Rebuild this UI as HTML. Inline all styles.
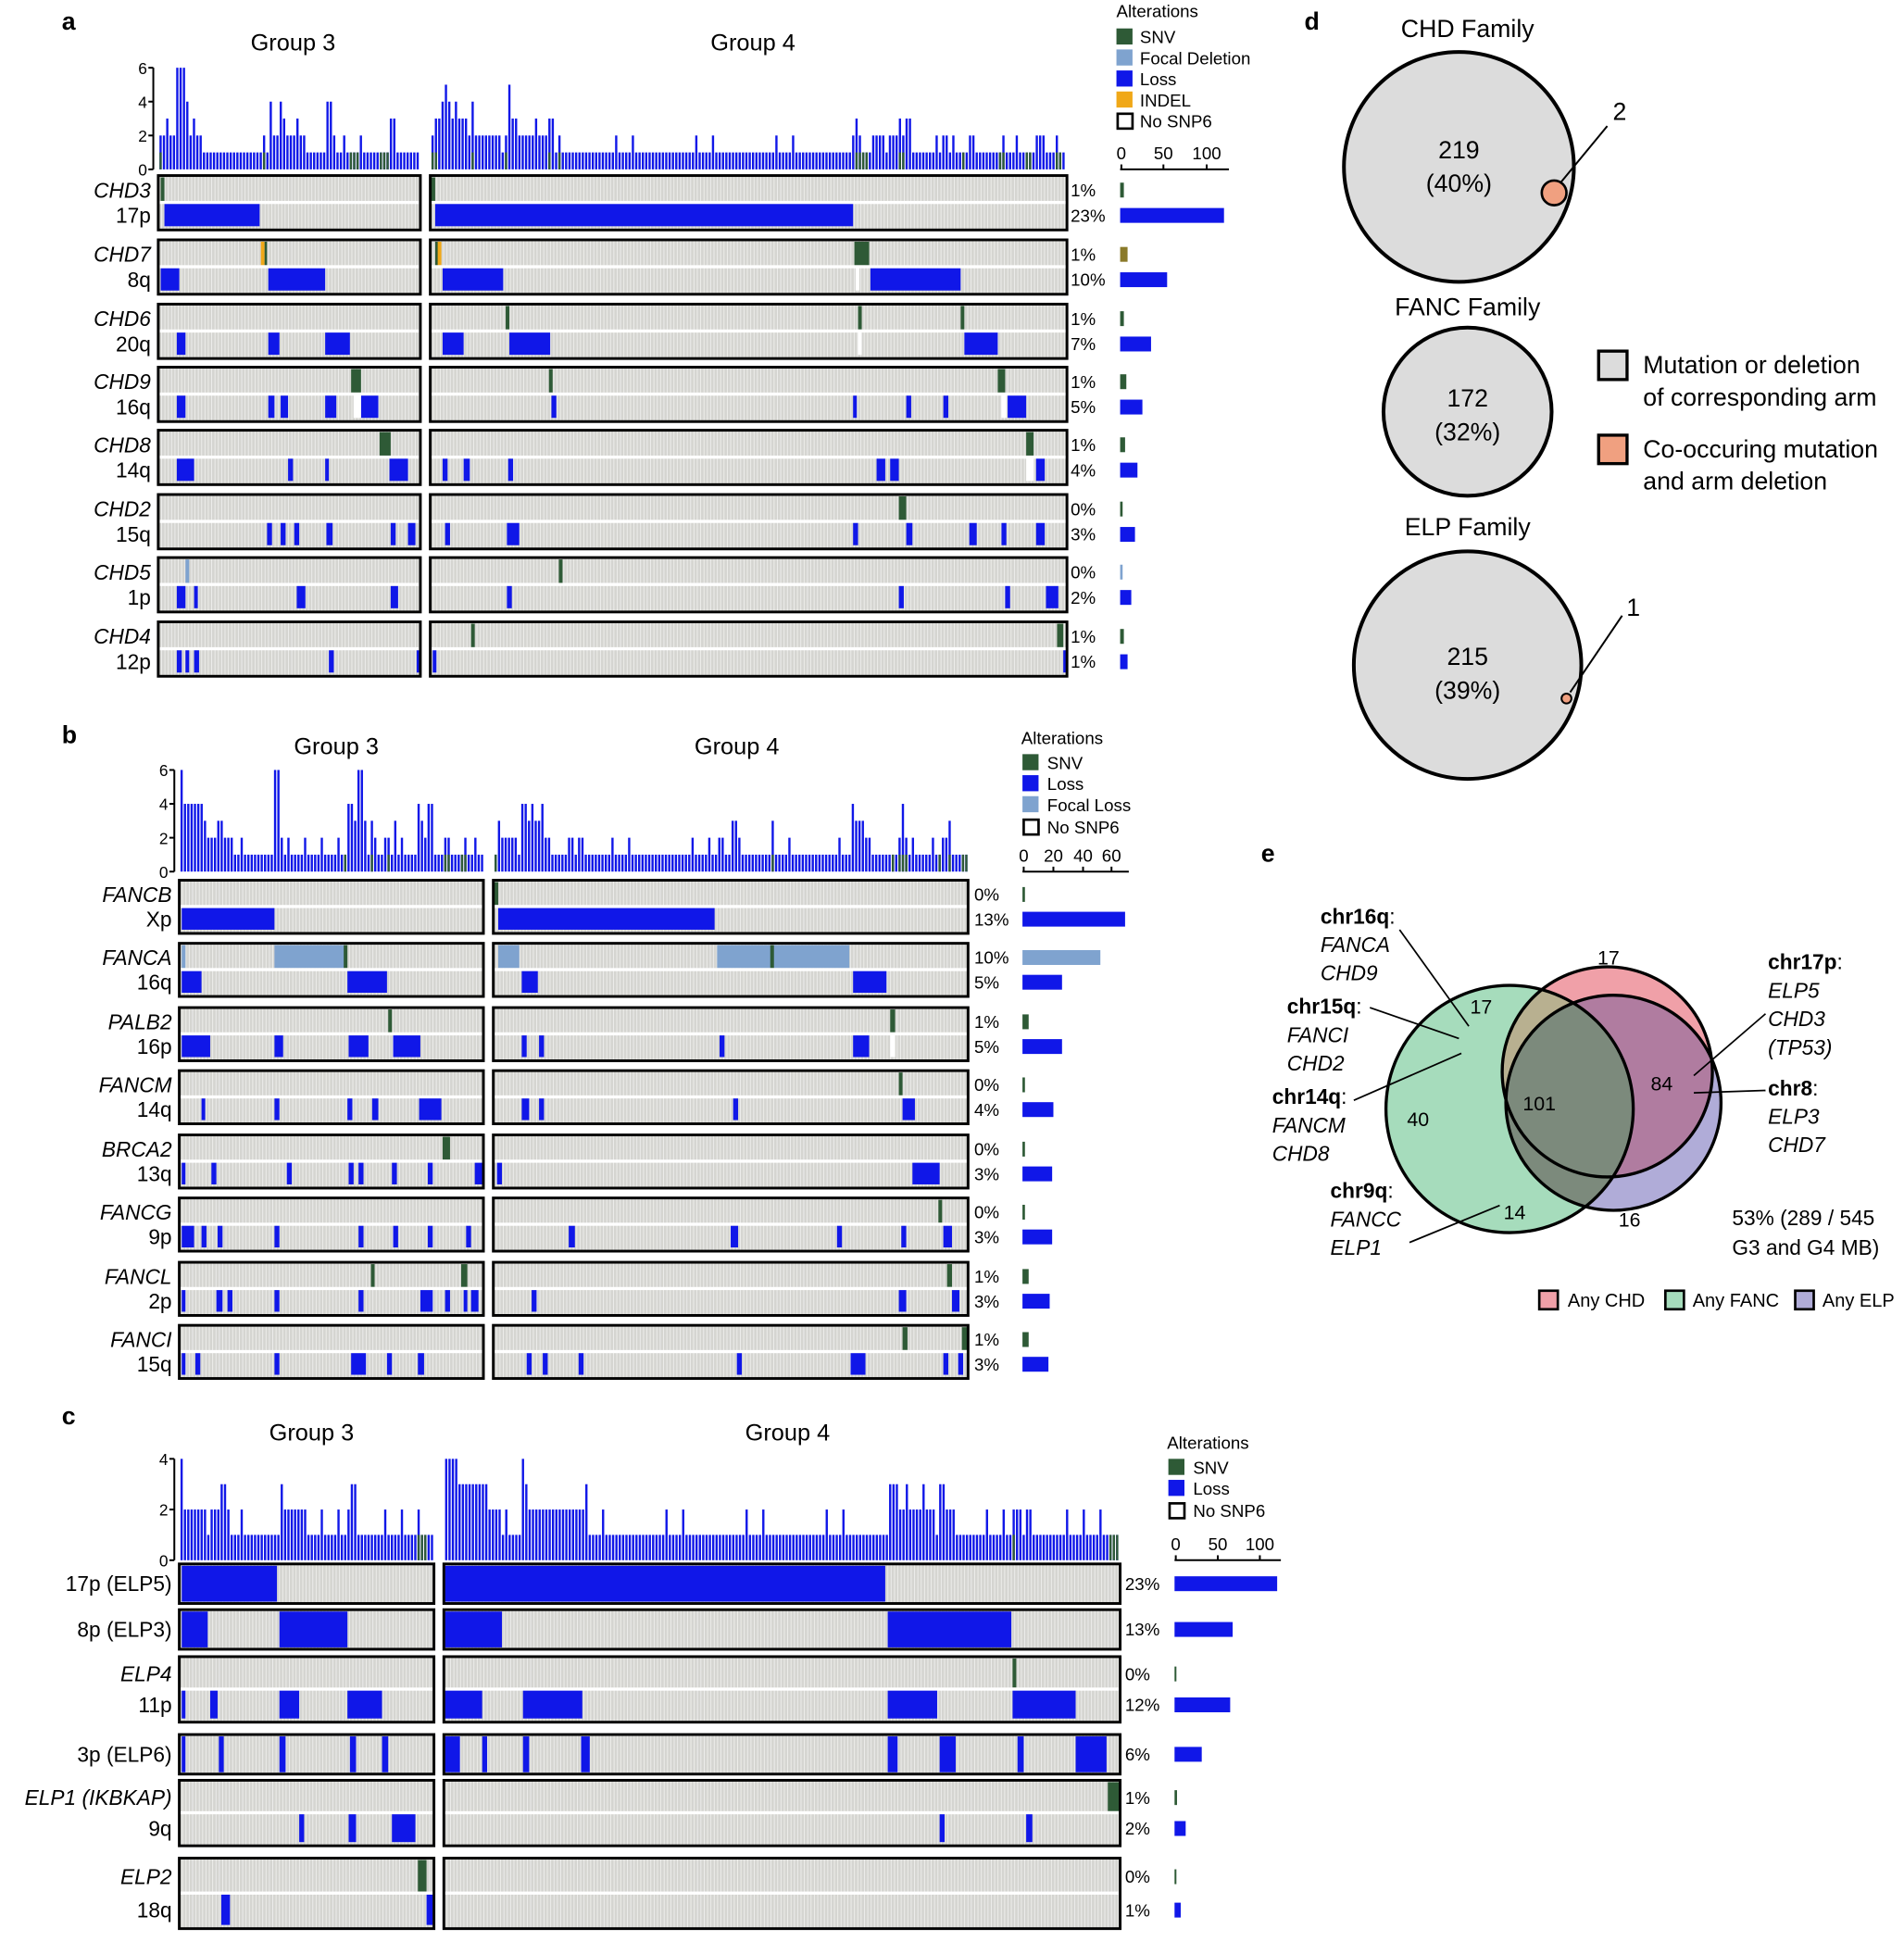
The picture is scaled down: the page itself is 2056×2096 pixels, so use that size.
<!DOCTYPE html>
<html><head><meta charset="utf-8"><style>
html,body{margin:0;padding:0;background:#fff}
svg{display:block}
text{font-family:"Liberation Sans",Arial,sans-serif;fill:#000}
</style></head><body>
<svg id="s" width="2056" height="2096" viewBox="0 0 1540 1570" preserveAspectRatio="none" xmlns="http://www.w3.org/2000/svg">
<rect width="1540" height="1570" fill="#fff"/>
<g id="g"></g>
<text x="50" y="24" font-size="20" font-weight="bold">a</text>
<text x="50" y="601" font-size="20" font-weight="bold">b</text>
<text x="50" y="1152" font-size="20" font-weight="bold">c</text>
<text x="1055" y="24" font-size="20" font-weight="bold">d</text>
<text x="1020" y="697" font-size="20" font-weight="bold">e</text>
<text x="237" y="41" font-size="19" text-anchor="middle">Group 3</text>
<text x="609" y="41" font-size="19" text-anchor="middle">Group 4</text>
<text x="272" y="610" font-size="19" text-anchor="middle">Group 3</text>
<text x="596" y="610" font-size="19" text-anchor="middle">Group 4</text>
<text x="252" y="1165" font-size="19" text-anchor="middle">Group 3</text>
<text x="637" y="1165" font-size="19" text-anchor="middle">Group 4</text>
<g font-size="14">
<text x="903" y="14">Alterations</text>
<rect x="903" y="23" width="13" height="13" fill="#2e5a36"/><text x="922" y="35">SNV</text>
<rect x="903" y="40" width="13" height="13" fill="#7fa3cf"/><text x="922" y="52">Focal Deletion</text>
<rect x="903" y="57" width="13" height="13" fill="#1017e8"/><text x="922" y="69">Loss</text>
<rect x="903" y="74" width="13" height="13" fill="#f0a818"/><text x="922" y="86">INDEL</text>
<rect x="904" y="92" width="12" height="12" fill="#fff" stroke="#000" stroke-width="2"/><text x="922" y="103">No SNP6</text>
<text x="826" y="602">Alterations</text>
<rect x="827" y="610" width="13" height="13" fill="#2e5a36"/><text x="847" y="622">SNV</text>
<rect x="827" y="627" width="13" height="13" fill="#1017e8"/><text x="847" y="639">Loss</text>
<rect x="827" y="644" width="13" height="13" fill="#7fa3cf"/><text x="847" y="656">Focal Loss</text>
<rect x="828" y="663" width="12" height="12" fill="#fff" stroke="#000" stroke-width="2"/><text x="847" y="674">No SNP6</text>
<text x="944" y="1172">Alterations</text>
<rect x="945" y="1180" width="13" height="13" fill="#2e5a36"/><text x="965" y="1192">SNV</text>
<rect x="945" y="1197" width="13" height="13" fill="#1017e8"/><text x="965" y="1209">Loss</text>
<rect x="946" y="1216" width="12" height="12" fill="#fff" stroke="#000" stroke-width="2"/><text x="965" y="1227">No SNP6</text>
</g>
<g font-size="20" text-anchor="middle">
<text x="1187" y="30">CHD Family</text>
<circle cx="1180" cy="135" r="93" fill="#dcdcdc" stroke="#000" stroke-width="3"/>
<circle cx="1257" cy="156" r="10" fill="#f0a080" stroke="#000" stroke-width="2"/>
<line x1="1262" y1="148" x2="1300" y2="102" stroke="#000" stroke-width="1.5"/>
<text x="1310" y="97">2</text>
<text x="1180" y="128">219</text><text x="1180" y="155">(40%)</text>
<text x="1187" y="255">FANC Family</text>
<circle cx="1187" cy="333" r="68" fill="#dcdcdc" stroke="#000" stroke-width="3"/>
<text x="1187" y="329">172</text><text x="1187" y="356">(32%)</text>
<text x="1187" y="433">ELP Family</text>
<circle cx="1187" cy="538" r="92" fill="#dcdcdc" stroke="#000" stroke-width="3"/>
<circle cx="1267" cy="565" r="4" fill="#f0a080" stroke="#000" stroke-width="1.5"/>
<line x1="1270" y1="560" x2="1312" y2="498" stroke="#000" stroke-width="1.5"/>
<text x="1321" y="498">1</text>
<text x="1187" y="538">215</text><text x="1187" y="565">(39%)</text>
</g>
<g font-size="20">
<rect x="1293" y="284" width="23" height="23" fill="#dcdcdc" stroke="#000" stroke-width="2.5"/>
<text x="1329" y="302">Mutation or deletion</text><text x="1329" y="328">of corresponding arm</text>
<rect x="1293" y="352" width="23" height="23" fill="#f0a080" stroke="#000" stroke-width="2.5"/>
<text x="1329" y="370">Co-occuring mutation</text><text x="1329" y="396">and arm deletion</text>
</g>
<defs><clipPath id="cg"><circle cx="1221" cy="897" r="100"/></clipPath><clipPath id="cr"><circle cx="1300" cy="867" r="85"/></clipPath></defs>
<circle cx="1221" cy="897" r="100" fill="#a6dcbc"/>
<circle cx="1305" cy="892" r="87" fill="#b0acd8"/>
<circle cx="1300" cy="867" r="85" fill="#f0a0a8"/>
<circle cx="1300" cy="867" r="85" fill="#b8b090" clip-path="url(#cg)"/>
<circle cx="1305" cy="892" r="87" fill="#b07ca0" clip-path="url(#cr)"/>
<circle cx="1305" cy="892" r="87" fill="#7c8a7c" clip-path="url(#cg)"/>
<circle cx="1221" cy="897" r="100" fill="none" stroke="#000" stroke-width="2.5"/>
<circle cx="1305" cy="892" r="87" fill="none" stroke="#000" stroke-width="2.5"/>
<circle cx="1300" cy="867" r="85" fill="none" stroke="#000" stroke-width="2.5"/>
<g font-size="16" text-anchor="middle">
<text x="1301" y="780">17</text><text x="1198" y="820">17</text><text x="1245" y="898">101</text>
<text x="1344" y="882">84</text><text x="1147" y="911">40</text><text x="1225" y="986">14</text><text x="1318" y="992">16</text>
</g>
<g font-size="17">
<text x="1068" y="747" font-weight="bold">chr16q<tspan font-weight="normal">:</tspan></text>
<text x="1068" y="770" font-style="italic">FANCA</text><text x="1068" y="793" font-style="italic">CHD9</text>
<text x="1041" y="820" font-weight="bold">chr15q<tspan font-weight="normal">:</tspan></text>
<text x="1041" y="843" font-style="italic">FANCI</text><text x="1041" y="866" font-style="italic">CHD2</text>
<text x="1029" y="893" font-weight="bold">chr14q<tspan font-weight="normal">:</tspan></text>
<text x="1029" y="916" font-style="italic">FANCM</text><text x="1029" y="939" font-style="italic">CHD8</text>
<text x="1076" y="969" font-weight="bold">chr9q<tspan font-weight="normal">:</tspan></text>
<text x="1076" y="992" font-style="italic">FANCC</text><text x="1076" y="1015" font-style="italic">ELP1</text>
<text x="1430" y="784" font-weight="bold">chr17p<tspan font-weight="normal">:</tspan></text>
<text x="1430" y="807" font-style="italic">ELP5</text><text x="1430" y="830" font-style="italic">CHD3</text><text x="1430" y="853" font-style="italic">(TP53)</text>
<text x="1430" y="886" font-weight="bold">chr8<tspan font-weight="normal">:</tspan></text>
<text x="1430" y="909" font-style="italic">ELP3</text><text x="1430" y="932" font-style="italic">CHD7</text>
<text x="1401" y="991">53% (289 / 545</text><text x="1401" y="1015">G3 and G4 MB)</text>
</g>
<g stroke="#000" stroke-width="1.3">
<line x1="1132" y1="752" x2="1188" y2="830"/><line x1="1108" y1="815" x2="1180" y2="840"/>
<line x1="1095" y1="890" x2="1182" y2="852"/><line x1="1140" y1="1005" x2="1213" y2="975"/>
<line x1="1370" y1="870" x2="1428" y2="820"/><line x1="1370" y1="884" x2="1428" y2="882"/>
</g>
<g font-size="15">
<rect x="1245" y="1044" width="15" height="15" fill="#f0a0a8" stroke="#000" stroke-width="2"/><text x="1268" y="1057">Any CHD</text>
<rect x="1347" y="1044" width="15" height="15" fill="#a6dcbc" stroke="#000" stroke-width="2"/><text x="1369" y="1057">Any FANC</text>
<rect x="1452" y="1044" width="15" height="15" fill="#b0acd8" stroke="#000" stroke-width="2"/><text x="1474" y="1057">Any ELP</text>
</g>
</svg>
<script>
const B="#1017e8",G="#2e5a36",L="#7fa3cf",Y="#f0a818",W="#fff";
const NS="http://www.w3.org/2000/svg",root=document.getElementById('g');
function el(t,a,txt){const e=document.createElementNS(NS,t);for(const k in a)e.setAttribute(k,a[k]);if(txt!=null)e.textContent=txt;root.appendChild(e);return e;}
function S(c,...r){return r.map(p=>[p[0],p[1],c]);}
function panel(P){
 const cw=2.7;
 const all=[];
 P.rows.forEach(r=>r.lines.forEach(l=>all.push(...l.segs)));
 P.groups.forEach(([x0,x1])=>{
  for(let x=x0+1;x<x1-1;x+=cw){
   const c=x+cw/2;let n=0,snv=false;
   all.forEach(s=>{if(c>=s[0]&&c<=s[1]&&s[2]!=W){n++;if(s[2]==G)snv=true;}});
   n=Math.max(1,n+((Math.floor(c*7.3)%11==0)?1:0));
   if(n>P.hmax)n=P.hmax;
   const h=n*P.unit;
   el('rect',{x:x,y:P.h0-h,width:cw-0.9,height:h,fill:B});
   if(snv)el('rect',{x:x,y:P.h0-P.unit,width:cw-0.9,height:P.unit,fill:G});
  }
 });
 const ax=P.groups[0][0]-4;
 el('line',{x1:ax,y1:P.h0,x2:ax,y2:P.h0-P.hmax*P.unit,stroke:'#000','stroke-width':1.5});
 P.ticks.forEach(t=>{const y=P.h0-t*P.unit;el('line',{x1:ax-4,y1:y,x2:ax,y2:y,stroke:'#000','stroke-width':1.5});el('text',{x:ax-5,y:y+5,'font-size':13,'text-anchor':'end'},t);});
 el('line',{x1:P.bx,y1:P.h0,x2:P.bx+P.axlen,y2:P.h0,stroke:'#000','stroke-width':1.5});
 P.bt.forEach(([v,x])=>{el('line',{x1:x,y1:P.h0,x2:x,y2:P.h0-4,stroke:'#000','stroke-width':1.5});el('text',{x:x,y:P.h0-8,'font-size':14,'text-anchor':'middle'},v);});
 P.rows.forEach(r=>{
  const n=r.lines.length,lh=(r.h-3)/n;
  P.groups.forEach(([x0,x1])=>{
   el('rect',{x:x0,y:r.y,width:x1-x0,height:r.h,fill:'#d5d5d1'});
   for(let x=x0+cw;x<x1;x+=cw)el('rect',{x:x-0.35,y:r.y,width:0.7,height:r.h,fill:'#eeeeec'});
   r.lines.forEach((l,i)=>{
    const y=r.y+1.5+i*lh;
    l.segs.forEach(s=>{const a=Math.max(s[0],x0),b=Math.min(s[1],x1);if(b>a)el('rect',{x:a,y:y,width:b-a,height:lh-(n>1?1.5:0),fill:s[2]});});
   });
   if(n>1)el('rect',{x:x0,y:r.y+1.5+lh-1.5,width:x1-x0,height:2.5,fill:'#fff'});
   el('rect',{x:x0,y:r.y,width:x1-x0,height:r.h,fill:'none',stroke:'#000','stroke-width':2.2});
  });
  r.lines.forEach((l,i)=>{
   const yc=r.y+1.5+i*lh+lh/2+6;
   el('text',{x:P.groups[0][0]-6,y:yc,'font-size':17,'text-anchor':'end','font-style':l.it?'italic':'normal'},l.label);
   el('text',{x:P.px,y:yc-1,'font-size':14},l.pct);
   el('rect',{x:P.bx,y:yc-12,width:Math.max(1.5,l.bar),height:12,fill:l.bc||(l.it?G:B)});
  });
 });
}
panel({groups:[[128,340],[348,863]],h0:137,unit:13.7,hmax:6,ticks:[0,2,4,6],px:866,bx:906,axlen:88,bt:[[0,907],[50,941],[100,976]],rows:[
{y:142,h:44,lines:[{label:'CHD3',it:1,pct:'1%',bar:3,segs:S(G,[130,133],[349,352])},{label:'17p',pct:'23%',bar:84,segs:S(B,[133,210],[352,690])}]},
{y:194,h:44,lines:[{label:'CHD7',it:1,pct:'1%',bar:6,bc:'#8a7a2a',segs:S(Y,[211,214],[353,357]).concat(S(G,[214,216],[352,354],[691,703]))},{label:'8q',pct:'10%',bar:38,segs:S(B,[130,145],[217,263],[358,407],[704,777]).concat(S(W,[692,695]))}]},
{y:246,h:44,lines:[{label:'CHD6',it:1,pct:'1%',bar:3,segs:S(G,[409,412],[694,697],[777,780])},{label:'20q',pct:'7%',bar:25,segs:S(B,[143,150],[217,226],[263,283],[358,375],[412,445],[780,807]).concat(S(W,[694,697]))}]},
{y:297,h:44,lines:[{label:'CHD9',it:1,pct:'1%',bar:5,segs:S(G,[284,292],[444,447],[807,813])},{label:'16q',pct:'5%',bar:18,segs:S(B,[143,150],[217,222],[227,233],[263,272],[292,306],[446,450],[690,693],[733,737],[763,767],[815,830]).concat(S(W,[286,292],[810,814]))}]},
{y:348,h:44,lines:[{label:'CHD8',it:1,pct:'1%',bar:4,segs:S(G,[307,316],[830,836])},{label:'14q',pct:'4%',bar:14,segs:S(B,[143,157],[233,237],[263,266],[315,330],[358,362],[375,380],[411,415],[709,716],[720,727],[838,845]).concat(S(W,[830,836]))}]},
{y:400,h:44,lines:[{label:'CHD2',it:1,pct:'0%',bar:2,segs:S(G,[727,733])},{label:'15q',pct:'3%',bar:12,segs:S(B,[216,220],[227,231],[238,242],[264,269],[316,320],[330,336],[360,364],[410,420],[690,694],[733,738],[784,790],[810,814],[838,845])}]},
{y:451,h:44,lines:[{label:'CHD5',it:1,pct:'0%',bar:2,bc:L,segs:S(L,[150,153]).concat(S(G,[452,455]))},{label:'1p',pct:'2%',bar:9,segs:S(B,[143,150],[157,160],[240,247],[316,322],[410,414],[727,731],[813,817],[846,856])}]},
{y:503,h:44,lines:[{label:'CHD4',it:1,pct:'1%',bar:3,segs:S(G,[381,384],[855,860])},{label:'12p',pct:'1%',bar:6,segs:S(B,[143,147],[150,153],[157,161],[266,270],[337,340],[350,353],[860,863])}]}
]});
panel({groups:[[145,391],[399,783]],h0:705,unit:13.7,hmax:6,ticks:[0,2,4,6],px:788,bx:827,axlen:86,bt:[[0,828],[20,852],[40,876],[60,899]],rows:[
{y:712,h:43,lines:[{label:'FANCB',it:1,pct:'0%',bar:2,segs:S(G,[400,403])},{label:'Xp',pct:'13%',bar:83,segs:S(B,[147,222],[403,578])}]},
{y:763,h:43,lines:[{label:'FANCA',it:1,pct:'10%',bar:63,bc:L,segs:S(L,[147,150],[222,279],[403,420],[580,687]).concat(S(G,[278,281],[623,626]))},{label:'16q',pct:'5%',bar:32,segs:S(B,[147,163],[281,313],[422,435],[690,717])}]},
{y:815,h:43,lines:[{label:'PALB2',it:1,pct:'1%',bar:5,segs:S(G,[314,317],[720,724])},{label:'16p',pct:'5%',bar:32,segs:S(B,[147,170],[222,229],[282,298],[318,340],[422,426],[436,440],[582,586],[690,703]).concat(S(W,[720,724]))}]},
{y:866,h:43,lines:[{label:'FANCM',it:1,pct:'0%',bar:2,segs:S(G,[727,730])},{label:'14q',pct:'4%',bar:25,segs:S(B,[163,166],[222,226],[281,285],[301,306],[339,357],[422,428],[436,440],[593,597],[730,740])}]},
{y:918,h:43,lines:[{label:'BRCA2',it:1,pct:'0%',bar:2,segs:S(G,[358,364])},{label:'13q',pct:'3%',bar:24,segs:S(B,[147,150],[171,175],[232,236],[282,286],[290,294],[317,321],[346,350],[384,390],[402,406],[738,760])}]},
{y:969,h:43,lines:[{label:'FANCG',it:1,pct:'0%',bar:2,segs:S(G,[759,762])},{label:'9p',pct:'3%',bar:24,segs:S(B,[147,157],[163,167],[176,180],[222,226],[290,294],[318,322],[346,350],[377,381],[460,465],[591,597],[677,681],[729,733],[763,770])}]},
{y:1021,h:43,lines:[{label:'FANCL',it:1,pct:'1%',bar:5,segs:S(G,[300,303],[373,378],[766,770])},{label:'2p',pct:'3%',bar:22,segs:S(B,[147,150],[175,180],[184,188],[222,226],[290,294],[340,350],[360,364],[375,378],[381,387],[430,434],[727,733],[770,776])}]},
{y:1072,h:43,lines:[{label:'FANCI',it:1,pct:'1%',bar:5,segs:S(G,[730,734],[778,783])},{label:'15q',pct:'3%',bar:21,segs:S(B,[147,150],[158,162],[222,226],[284,296],[313,317],[338,343],[426,430],[439,443],[468,472],[596,600],[688,700],[763,767],[775,779])}]}
]});
panel({groups:[[145,351],[359,906]],h0:1262,unit:20.5,hmax:4,ticks:[0,2,4],px:910,bx:950,axlen:86,bt:[[0,951],[50,985],[100,1019]],rows:[
{y:1265,h:32,lines:[{label:'17p (ELP5)',pct:'23%',bar:83,segs:S(B,[147,224],[360,716])}]},
{y:1302,h:32,lines:[{label:'8p (ELP3)',pct:'13%',bar:47,segs:S(B,[147,168],[226,281],[360,406],[718,818])}]},
{y:1340,h:53,lines:[{label:'ELP4',it:1,pct:'0%',bar:1.5,segs:S(G,[819,822])},{label:'11p',pct:'12%',bar:45,segs:S(B,[147,150],[170,176],[226,242],[281,309],[360,390],[423,471],[718,758],[819,870])}]},
{y:1403,h:32,lines:[{label:'3p (ELP6)',pct:'6%',bar:22,segs:S(B,[147,150],[177,181],[226,231],[283,288],[309,314],[360,372],[390,394],[423,428],[470,477],[718,726],[760,773],[823,828],[870,895])}]},
{y:1440,h:53,lines:[{label:'ELP1 (IKBKAP)',it:1,pct:'1%',bar:2,segs:S(G,[896,906])},{label:'9q',pct:'2%',bar:9,segs:S(B,[242,246],[282,288],[317,336],[760,764],[830,835])}]},
{y:1503,h:57,lines:[{label:'ELP2',it:1,pct:'0%',bar:1.5,segs:S(G,[338,345])},{label:'18q',pct:'1%',bar:5,segs:S(B,[179,186],[345,350])}]}
]});
</script>
</body></html>
